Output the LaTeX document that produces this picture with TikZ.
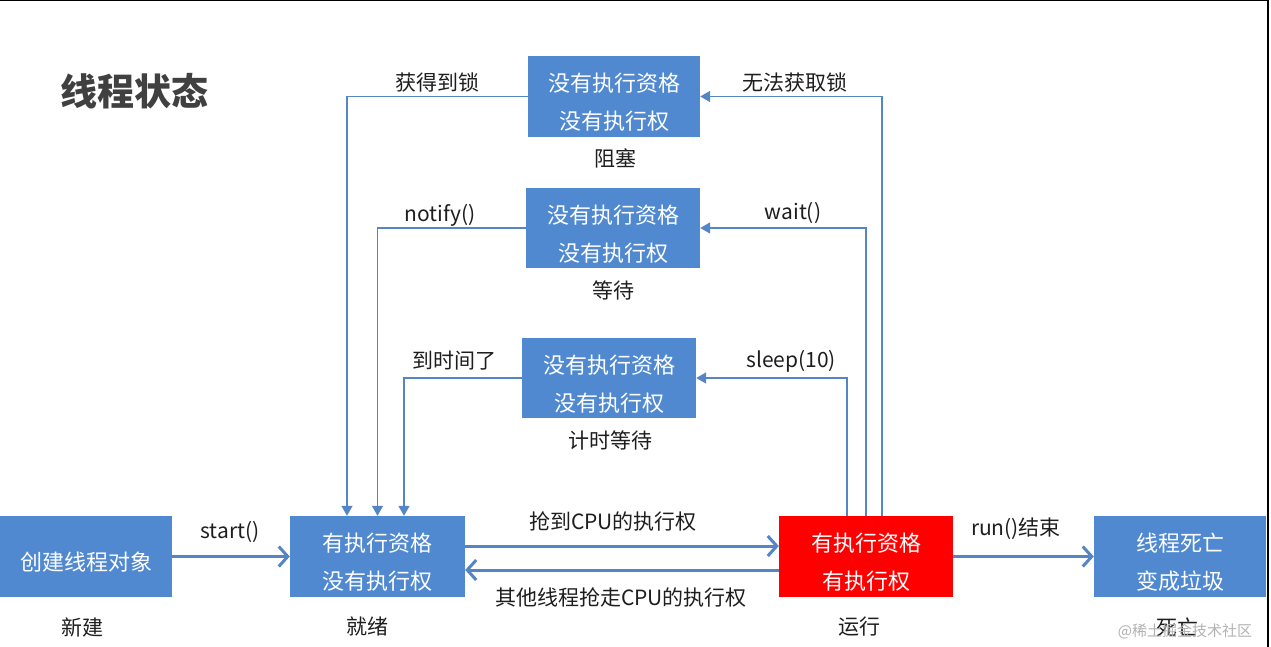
\documentclass[tikz,border=0pt]{standalone}
\usepackage{fontspec}
\setmainfont{Noto Sans CJK SC}
\usetikzlibrary{arrows.meta}
\definecolor{boxblue}{RGB}{80,137,208}
\definecolor{lineblue}{RGB}{86,133,198}
\definecolor{titlegray}{RGB}{64,64,64}
\definecolor{labelblack}{RGB}{30,30,30}
\newcommand{\tstrut}{\rule{0pt}{30pt}}
\begin{document}
\begin{tikzpicture}[x=1pt,y=-1pt,
  statebox/.style={fill=boxblue, text=white, minimum width=173pt, minimum height=81pt,
    inner sep=0pt, align=center, font=\fontsize{22}{38}\selectfont},
  lbl/.style={text=labelblack, inner sep=0pt, font=\fontsize{21}{24}\selectfont},
  mainarrow/.style={draw=lineblue, line width=3pt, -{Straight Barb[length=9pt,width=20pt]}},
  sidearrow/.style={draw=lineblue, line width=1.6pt, -{Triangle[length=10pt,width=11pt]}}]
\useasboundingbox (0,0) rectangle (1271,647);
\fill[white] (0,0) rectangle (1271,647);
\draw[black, line width=1.5pt] (0,0.75) -- (1268,0.75) -- (1268,647);

% title
\node[text=titlegray, font=\fontsize{37}{40}\selectfont\bfseries, inner sep=0pt] (title) at (134,91) {线程状态};

% states
\node[statebox, minimum width=172pt] (blocked) at (614,96.5) {\tstrut 没有执行资格\\没有执行权};
\node[statebox, minimum width=174pt, minimum height=80pt] (waiting) at (613,228) {\tstrut 没有执行资格\\没有执行权};
\node[statebox, minimum width=174pt, minimum height=80pt] (timed) at (609,378) {\tstrut 没有执行资格\\没有执行权};
\node[statebox, minimum width=172pt] (new) at (86,556.5) {\tstrut 创建线程对象};
\node[statebox, minimum width=175pt] (ready) at (377.5,556.5) {\tstrut 有执行资格\\没有执行权};
\node[statebox, fill=red, minimum width=174pt] (running) at (866,556.5) {\tstrut 有执行资格\\有执行权};
\node[statebox, minimum width=172pt] (dead) at (1180,556.5) {\tstrut 线程死亡\\变成垃圾};

% state names
\node[lbl] (nblocked) at (615,158) {阻塞};
\node[lbl] (nwaiting) at (613,290) {等待};
\node[lbl] (ntimed) at (610,440) {计时等待};
\node[lbl] (nnew) at (82,627) {新建};
\node[lbl] (nready) at (367,627) {就绪};
\node[lbl] (nrunning) at (859,627) {运行};
\node[lbl] (ndead) at (1177,627) {死亡};

% side transitions
\draw[sidearrow] (blocked.west) -| ([xshift=-30.5pt]ready.north);
\draw[sidearrow] (waiting.west) -| (ready.north);
\draw[sidearrow] (timed.west) -| ([xshift=26.5pt]ready.north);
\draw[sidearrow] ([xshift=16pt]running.north) |- (blocked.east);
\draw[sidearrow] (running.north) |- (waiting.east);
\draw[sidearrow] ([xshift=-19pt]running.north) |- (timed.east);

\node[lbl] (l1) at (437,82) {获得到锁};
\node[lbl] (l2) at (795,82) {无法获取锁};
\node[lbl] (l3) at (440,215) {notify()};
\node[lbl] (l4) at (793,213) {wait()};
\node[lbl] (l5) at (454,361) {到时间了};
\node[lbl] (l6) at (791,361) {sleep(10)};

% main transitions
\draw[mainarrow] (new.east) -- (ready.west);
\draw[mainarrow] ([yshift=10.5pt]ready.east) -- ([yshift=10.5pt]running.west);
\draw[mainarrow] ([yshift=-13.5pt]running.west) -- ([yshift=-13.5pt]ready.east);
\draw[mainarrow] (running.east) -- (dead.west);

\node[lbl] (l7) at (230,532) {start()};
\node[lbl] (l8) at (613,521) {抢到CPU的执行权};
\node[lbl] (l9) at (621,597) {其他线程抢走CPU的执行权};
\node[lbl] (l10) at (1016,529) {run()结束};

% watermark
\node[text=black!30, inner sep=0pt, font=\fontsize{15}{17}\selectfont] (wm) at (1185,631) {@稀土掘金技术社区};
\end{tikzpicture}
\end{document}
